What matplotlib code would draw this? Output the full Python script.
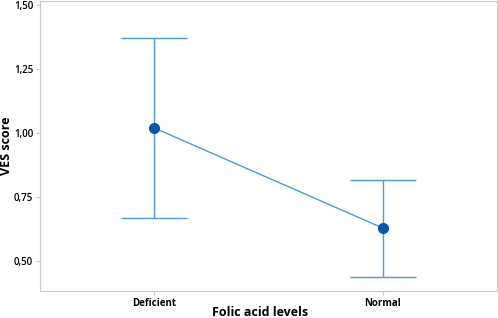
import matplotlib
matplotlib.use("Agg")
import matplotlib.pyplot as plt
import numpy as np

plt.rcParams['font.family'] = ['Open Sans', 'DejaVu Sans']

categories = ["Deficient", "Normal"]
means = [1.02, 0.629]
upper = [1.371, 0.816]
lower = [0.668, 0.4375]
yticks = [0.50, 0.75, 1.00, 1.25, 1.50]
ytick_labels = ["0,50", "0,75", "1,00", "1,25", "1,50"]

fig = plt.figure(figsize=(4.98, 3.18), dpi=100)
ax = fig.add_axes([40/498, 1 - 291/318, 457/498, 290/318])

x = np.arange(len(categories))
m = np.array(means)
yerr = np.vstack([m - np.array(lower), np.array(upper) - m])
line_c = "#4a9bd6"
ax.errorbar(x, m, yerr=yerr, fmt='none', ecolor=line_c, elinewidth=1.0,
            capsize=24, capthick=1.0, zorder=2)
ax.plot(x, m, color=line_c, lw=1.0, zorder=3)
ax.plot(x, m, 'o', color="#0a56a6", ms=7, zorder=4)

ax.set_xlim(-0.5, 1.5)
ax.set_ylim(0.383, 1.516)
ax.set_xticks(x)
ax.set_xticklabels(categories, fontsize=7, fontweight='bold')
ax.set_yticks(yticks)
ax.set_yticklabels(ytick_labels, fontsize=7, fontweight='semibold')
ax.set_xlabel("Folic acid levels", fontsize=9, fontweight='bold', va='center')
ax.set_ylabel("VES score", fontsize=9, fontweight='bold', va='center')
ax.xaxis.set_label_coords((260 - 40) / 457, (291 - 313) / 290)
ax.yaxis.set_label_coords((7 - 40) / 457, (291 - 146) / 290)
for s in ax.spines.values():
    s.set_color("#c8c8c8")
ax.tick_params(colors="#c8c8c8", labelcolor="black", length=3, width=0.8, pad=2)

fig.savefig("out.png", dpi=100)
